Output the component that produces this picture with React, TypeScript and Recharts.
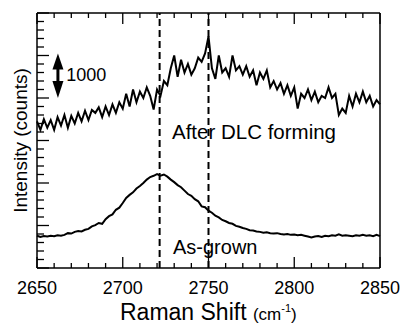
import React from "react";
import { LineChart, Line, XAxis, YAxis, ReferenceLine, ReferenceDot, Label } from "recharts";

const FONT = "Liberation Sans, Arial, sans-serif";

// Raman shift grid (cm-1)
const shift = [
  2650, 2652, 2654, 2656, 2658, 2660, 2662, 2664, 2666, 2668,
  2670, 2672, 2674, 2676, 2678, 2680, 2682, 2684, 2686, 2688,
  2690, 2692, 2694, 2696, 2698, 2700, 2702, 2704, 2706, 2708,
  2710, 2712, 2714, 2716, 2718, 2720, 2722, 2724, 2726, 2728,
  2730, 2732, 2734, 2736, 2738, 2740, 2742, 2744, 2746, 2748,
  2750, 2752, 2754, 2756, 2758, 2760, 2762, 2764, 2766, 2768,
  2770, 2772, 2774, 2776, 2778, 2780, 2782, 2784, 2786, 2788,
  2790, 2792, 2794, 2796, 2798, 2800, 2802, 2804, 2806, 2808,
  2810, 2812, 2814, 2816, 2818, 2820, 2822, 2824, 2826, 2828,
  2830, 2832, 2834, 2836, 2838, 2840, 2842, 2844, 2846, 2848,
  2850,
];

const afterDlc = [
  3450, 3250, 3500, 3300, 3480, 3250, 3550, 3350, 3600, 3300,
  3580, 3400, 3650, 3450, 3700, 3480, 3720, 3650, 3780, 3550,
  3800, 3600, 3850, 3650, 3900, 3750, 4100, 3800, 4200, 3900,
  4150, 4000, 4250, 4050, 3730, 4200, 4050, 4400, 4300, 4700,
  5000, 4500, 4900, 4600, 4800, 4550, 4700, 4950, 4850, 5050,
  5450, 4700, 4450, 5000, 4600, 4700, 4500, 5000, 4650, 4750,
  4550, 4750, 4500, 4650, 4300, 4600, 4450, 4650, 4250, 4400,
  4200, 4350, 4100, 4300, 4050, 4250, 3750, 4100, 4000, 4200,
  3950, 4150, 3900, 4050, 4000, 4250, 4000, 4100, 3600, 3750,
  3650, 4050, 3800, 4100, 3900, 4150, 3900, 4050, 3800, 3950,
  3850,
];

const asGrown = [
  760, 730, 750, 740, 760, 750, 770, 760, 780, 820,
  810, 850, 870, 860, 900, 920, 980, 1010, 1060, 1040,
  1150, 1220, 1260, 1370, 1420, 1530, 1650, 1720, 1780, 1870,
  1930, 2000, 2080, 2140, 2170, 2210, 2170, 2200, 2150, 2080,
  2020, 1950, 1900, 1820, 1740, 1700, 1620, 1570, 1450, 1430,
  1350, 1300, 1230, 1190, 1130, 1100, 1060, 1040, 990, 970,
  940, 920, 890, 880, 860, 850, 830, 840, 820, 810,
  820, 800, 790, 800, 780, 790, 770, 780, 760, 740,
  720, 740, 750, 730, 760, 750, 770, 760, 790, 760,
  770, 760, 750, 770, 760, 780, 760, 770, 750, 780,
  750,
];

const xTicks = [
  2650, 2660, 2670, 2680, 2690, 2700, 2710, 2720, 2730, 2740, 2750,
  2760, 2770, 2780, 2790, 2800, 2810, 2820, 2830, 2840, 2850,
];
const yTicks = [
  0, 200, 400, 600, 800, 1000, 1200, 1400, 1600, 1800, 2000, 2200, 2400, 2600, 2800, 3000,
  3200, 3400, 3600, 3800, 4000, 4200, 4400, 4600, 4800, 5000, 5200, 5400, 5600, 5800, 6000,
];
const peakLines = [2721.5, 2750];

const data = shift.map((s, i) => ({ shift: s, asGrown: asGrown[i], dlc: afterDlc[i] }));

const tickStroke = { stroke: "#000", strokeWidth: 1.3 };

const BottomTick = (props: any) => {
  const { x, y, payload } = props;
  const major = payload.value % 50 === 0;
  return (
    <g>
      <line x1={x} y1={y} x2={x} y2={y - (major ? 11 : 5)} {...tickStroke} />
      {major && (
        <text x={x} y={y + 26} textAnchor="middle" fontSize={18} fontFamily={FONT} fill="#000">
          {payload.value}
        </text>
      )}
    </g>
  );
};

const TopTick = (props: any) => {
  const { x, y, payload } = props;
  const major = payload.value % 50 === 0;
  return <line x1={x} y1={y} x2={x} y2={y + (major ? 11 : 5)} {...tickStroke} />;
};

const LeftTick = (props: any) => {
  const { x, y, payload } = props;
  const major = payload.value % 1000 === 0;
  return <line x1={x} y1={y} x2={x + (major ? 12 : 7)} y2={y} {...tickStroke} />;
};

const RightTick = (props: any) => {
  const { x, y, payload } = props;
  const major = payload.value % 1000 === 0;
  return <line x1={x} y1={y} x2={x - (major ? 12 : 6)} y2={y} {...tickStroke} />;
};

const textShape = (txt: string, size: number) => (p: any) => (
  <text x={p.cx} y={p.cy} fontSize={size} fontFamily={FONT} fill="#000">
    {txt}
  </text>
);

const DoubleArrow = (p: any) => {
  const { x1, y1, y2 } = p;
  const x = x1;
  const top = Math.min(y1, y2);
  const bot = Math.max(y1, y2);
  return (
    <g>
      <line x1={x} y1={top + 10} x2={x} y2={bot - 10} stroke="#000" strokeWidth={3} />
      <polygon points={`${x},${top} ${x - 5.5},${top + 16} ${x + 5.5},${top + 16}`} fill="#000" />
      <polygon points={`${x},${bot} ${x - 5.5},${bot - 17} ${x + 5.5},${bot - 17}`} fill="#000" />
    </g>
  );
};

export default function App() {
  return (
    <div style={{ position: "fixed", left: 0, top: 0, background: "#fff" }}>
      <LineChart width={400} height={327} data={data} margin={{ top: 0, right: 0, bottom: 0, left: 0 }}>
        <XAxis
          xAxisId="b"
          dataKey="shift"
          type="number"
          domain={[2650, 2850]}
          ticks={xTicks}
          interval={0}
          height={59}
          tickSize={0}
          tickMargin={0}
          tick={<BottomTick />}
          tickLine={false}
          axisLine={{ stroke: "#000", strokeWidth: 1.5 }}
        >
          <Label
            content={(lp: any) => {
              const vb = lp.viewBox;
              return (
                <text x={120} y={vb.y + 52} textAnchor="start" fontFamily={FONT} fill="#000">
                  <tspan fontSize={23}>Raman Shift </tspan>
                  <tspan fontSize={17}>(cm</tspan>
                  <tspan fontSize={11} dy={-8}>-1</tspan>
                  <tspan fontSize={17} dy={8}>)</tspan>
                </text>
              );
            }}
          />
        </XAxis>
        <XAxis
          xAxisId="t"
          dataKey="shift"
          type="number"
          orientation="top"
          domain={[2650, 2850]}
          ticks={xTicks}
          interval={0}
          height={13}
          tickSize={0}
          tickMargin={0}
          tick={<TopTick />}
          tickLine={false}
          axisLine={{ stroke: "#000", strokeWidth: 1.5 }}
        />
        <YAxis
          yAxisId="l"
          type="number"
          domain={[0, 6000]}
          ticks={yTicks}
          interval={0}
          width={37}
          tickSize={0}
          tickMargin={0}
          tick={<LeftTick />}
          tickLine={false}
          axisLine={{ stroke: "#000", strokeWidth: 1.5 }}
        >
          <Label
            content={(lp: any) => {
              const vb = lp.viewBox;
              const cx = 27;
              const cy = vb.y + vb.height / 2;
              return (
                <text
                  x={cx}
                  y={cy}
                  transform={`rotate(-90 ${cx} ${cy})`}
                  textAnchor="middle"
                  fontSize={19}
                  fontFamily={FONT}
                  fill="#000"
                >
                  Intensity (counts)
                </text>
              );
            }}
          />
        </YAxis>
        <YAxis
          yAxisId="r"
          orientation="right"
          type="number"
          domain={[0, 6000]}
          ticks={yTicks}
          interval={0}
          width={20}
          tickSize={0}
          tickMargin={0}
          tick={<RightTick />}
          tickLine={false}
          axisLine={{ stroke: "#000", strokeWidth: 1.5 }}
        />

        {peakLines.map((p) => (
          <ReferenceLine
            key={p}
            xAxisId="b"
            yAxisId="l"
            x={p}
            stroke="#000"
            strokeWidth={2}
            strokeDasharray="7 4"
          />
        ))}

        <Line
          xAxisId="b"
          yAxisId="l"
          dataKey="dlc"
          type="linear"
          stroke="#000"
          strokeWidth={2}
          dot={false}
          isAnimationActive={false}
        />
        <Line
          xAxisId="b"
          yAxisId="l"
          dataKey="asGrown"
          type="linear"
          stroke="#000"
          strokeWidth={2}
          dot={false}
          isAnimationActive={false}
        />

        <ReferenceLine
          xAxisId="b"
          yAxisId="l"
          segment={[
            { x: 2662.2, y: 4000 },
            { x: 2662.2, y: 5050 },
          ]}
          shape={DoubleArrow}
        />
        <ReferenceDot xAxisId="b" yAxisId="l" x={2667} y={4400} r={0} shape={textShape("1000", 18)} />
        <ReferenceDot
          xAxisId="b"
          yAxisId="l"
          x={2728.7}
          y={3040}
          r={0}
          shape={textShape("After DLC forming", 20.5)}
        />
        <ReferenceDot xAxisId="b" yAxisId="l" x={2729.3} y={320} r={0} shape={textShape("As-grown", 20)} />
      </LineChart>
    </div>
  );
}
